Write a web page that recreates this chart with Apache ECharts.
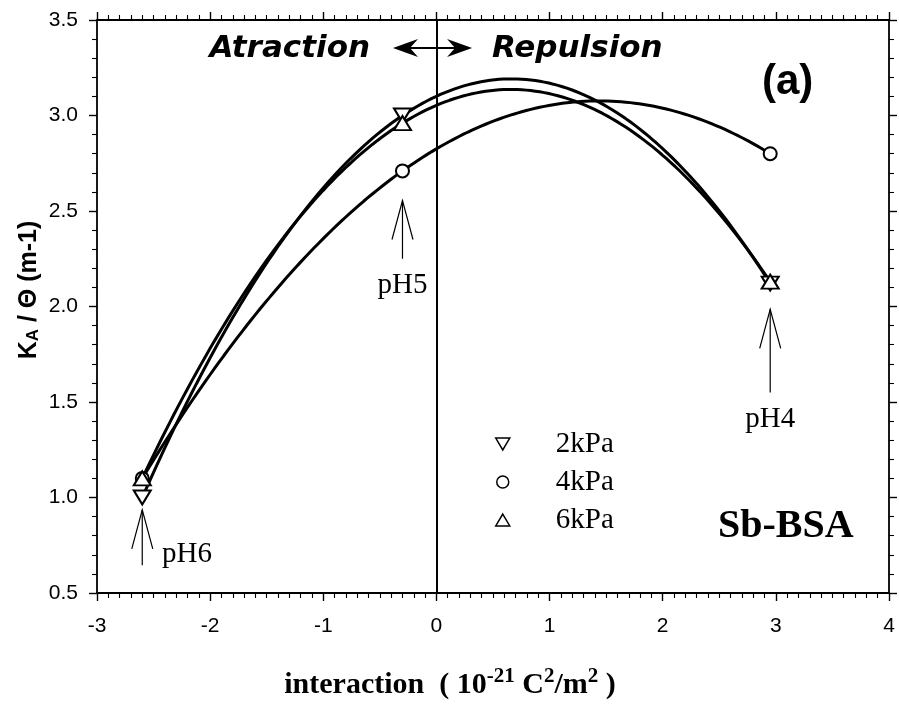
<!DOCTYPE html>
<html>
<head>
<meta charset="utf-8">
<script src="https://cdn.jsdelivr.net/npm/echarts@6/dist/echarts.min.js"></script>
<style>
  html, body { margin: 0; padding: 0; background: #fff; }
  #chart { width: 899px; height: 707px; }
</style>
</head>
<body>
<div id="chart"></div>
<script>
// Surface interaction energy at each pH
const interaction = [-2.6, -0.3, 2.95];
const pHLabels = ['pH6', 'pH5', 'pH4'];

// K_A / Θ at each pressure
const seriesNames = ['2kPa', '4kPa', '6kPa'];
const kPa2 = [1.00, 3.00, 2.12];
const kPa4 = [1.10, 2.71, 2.80];
const kPa6 = [1.10, 2.96, 2.13];

// Axis ranges and tick spacing
const xRange = [-3, 4];
const yRange = [0.5, 3.5];
const xStep = 1;
const yStep = 0.5;

// Least-squares 2nd order polynomial fit
function fitQuadratic(xs, ys) {
  const S = [0, 0, 0, 0, 0];
  const T = [0, 0, 0];
  xs.forEach((x, i) => {
    for (let k = 0; k < 5; k++) S[k] += Math.pow(x, k);
    for (let k = 0; k < 3; k++) T[k] += Math.pow(x, k) * ys[i];
  });
  const A = [
    [S[0], S[1], S[2], T[0]],
    [S[1], S[2], S[3], T[1]],
    [S[2], S[3], S[4], T[2]]
  ];
  for (let c = 0; c < 3; c++) {
    let p = c;
    for (let r = c + 1; r < 3; r++) if (Math.abs(A[r][c]) > Math.abs(A[p][c])) p = r;
    [A[c], A[p]] = [A[p], A[c]];
    for (let r = 0; r < 3; r++) {
      if (r === c) continue;
      const f = A[r][c] / A[c][c];
      for (let k = c; k < 4; k++) A[r][k] -= f * A[c][k];
    }
  }
  return [A[0][3] / A[0][0], A[1][3] / A[1][1], A[2][3] / A[2][2]];
}

function fitCurve(xs, ys) {
  const c = fitQuadratic(xs, ys);
  const x0 = Math.min(...xs), x1 = Math.max(...xs);
  const pts = [];
  const n = 140;
  for (let i = 0; i < n; i++) {
    const x = x0 + (x1 - x0) * i / (n - 1);
    pts.push([x, c[0] + c[1] * x + c[2] * x * x]);
  }
  return pts;
}

const groups = [kPa2, kPa4, kPa6];
const DOWN_TRIANGLE = 'path://M0,0 L20,0 L10,17 Z';
const UP_TRIANGLE = 'path://M10,0 L20,17 L0,17 Z';
const markers = [
  { symbol: DOWN_TRIANGLE, size: [17, 14] },
  { symbol: 'circle', size: 13 },
  { symbol: UP_TRIANGLE, size: [17, 14] }
];

// Pointer arrows under each pH group (axis units)
const pointers = [
  { x: interaction[0], tip: 0.935, tail: 0.645, text: pHLabels[0], at: [-2.425, 0.70], align: 'left' },
  { x: interaction[1], tip: 2.555, tail: 2.25, text: pHLabels[1], at: [interaction[1], 2.11], align: 'center' },
  { x: interaction[2], tip: 1.985, tail: 1.55, text: pHLabels[2], at: [interaction[2], 1.41], align: 'center' }
];
// Double arrow between the two regimes
const regimeArrow = { from: -0.384, to: 0.315, y: 3.353 };

const SERIF = '"Liberation Serif", "Times New Roman", serif';
const SANS = '"Liberation Sans", Arial, sans-serif';

const axisLineStyle = { color: '#000', width: 1.8 };
function xAxisDef(position, showLabel) {
  return {
    type: 'value', position: position, min: xRange[0], max: xRange[1], interval: xStep,
    axisLine: { show: true, onZero: false, lineStyle: axisLineStyle },
    axisTick: { show: true, length: 8, lineStyle: { color: '#000', width: 1.4 } },
    minorTick: { show: true, splitNumber: 10, length: 5, lineStyle: { color: '#000', width: 1.1 } },
    splitLine: { show: false },
    minorSplitLine: { show: false },
    axisLabel: { show: showLabel, margin: 23, fontFamily: SANS, fontSize: 21, color: '#000' }
  };
}
function yAxisDef(position, showLabel) {
  return {
    type: 'value', position: position, min: yRange[0], max: yRange[1], interval: yStep,
    axisLine: { show: true, onZero: false, lineStyle: axisLineStyle },
    axisTick: { show: true, length: 8, lineStyle: { color: '#000', width: 1.4 } },
    minorTick: { show: true, splitNumber: 5, length: 5, lineStyle: { color: '#000', width: 1.1 } },
    splitLine: { show: false },
    minorSplitLine: { show: false },
    axisLabel: {
      show: showLabel, margin: 19, fontFamily: SANS, fontSize: 21, color: '#000',
      formatter: v => v.toFixed(1)
    }
  };
}

const curveSeries = groups.map((ys, i) => ({
  name: seriesNames[i] + ' fit',
  type: 'line',
  data: fitCurve(interaction, ys),
  showSymbol: false,
  symbol: 'none',
  smooth: false,
  lineStyle: { color: '#000', width: 3 },
  z: 3,
  silent: true
}));

// Vertical reference line at zero interaction
curveSeries[0].markLine = {
  silent: true,
  symbol: ['none', 'none'],
  label: { show: false },
  lineStyle: { color: '#000', width: 2, type: 'solid' },
  emphasis: { disabled: true },
  data: [{ xAxis: 0 }]
};

const pointSeries = groups.map((ys, i) => ({
  name: seriesNames[i],
  type: 'scatter',
  data: interaction.map((x, j) => [x, ys[j]]),
  symbol: markers[i].symbol,
  symbolSize: markers[i].size,
  itemStyle: { color: '#fff', borderColor: '#000', borderWidth: 2, opacity: 1 },
  z: 5
}));

const annotationSeries = {
  type: 'custom',
  silent: true,
  z: 6,
  clip: false,
  data: pointers.map(p => [p.x, p.tip]),
  renderItem: function (params, api) {
    const p = pointers[params.dataIndex];
    const tip = api.coord([p.x, p.tip]);
    const tail = api.coord([p.x, p.tail]);
    const headLen = 39, headHalf = 10.5;
    const lab = api.coord(p.at);
    const children = [
      { type: 'line', shape: { x1: tip[0], y1: tip[1], x2: tail[0], y2: tail[1] },
        style: { stroke: '#000', lineWidth: 1.2 } },
      { type: 'polyline', shape: { points: [[tip[0] - headHalf, tip[1] + headLen], tip, [tip[0] + headHalf, tip[1] + headLen]] },
        style: { stroke: '#000', lineWidth: 1.2, fill: null } },
      { type: 'text', x: lab[0], y: lab[1],
        style: { text: p.text, fontFamily: SERIF, fontSize: 29, fill: '#000', align: p.align, verticalAlign: 'middle' } }
    ];
    if (params.dataIndex === 0) {
      const a = api.coord([regimeArrow.from, regimeArrow.y]);
      const b = api.coord([regimeArrow.to, regimeArrow.y]);
      const L = 25, H = 9, N = 17;
      children.push(
        { type: 'line', shape: { x1: a[0] + N, y1: a[1], x2: b[0] - N, y2: b[1] },
          style: { stroke: '#000', lineWidth: 2 } },
        { type: 'polygon', shape: { points: [a, [a[0] + L, a[1] - H], [a[0] + N, a[1]], [a[0] + L, a[1] + H]] },
          style: { fill: '#000' } },
        { type: 'polygon', shape: { points: [b, [b[0] - L, b[1] - H], [b[0] - N, b[1]], [b[0] - L, b[1] + H]] },
          style: { fill: '#000' } }
      );
    }
    return { type: 'group', children: children };
  }
};

const chart = echarts.init(document.getElementById('chart'), null, { renderer: 'canvas' });
chart.setOption({
  animation: false,
  backgroundColor: '#fff',
  grid: { left: 97, top: 20, width: 792, height: 573, containLabel: false },
  xAxis: [xAxisDef('bottom', true), xAxisDef('top', false)],
  yAxis: [yAxisDef('left', true), yAxisDef('right', false)],
  legend: {
    data: seriesNames,
    orient: 'vertical',
    left: 490,
    top: 424,
    itemWidth: 14,
    itemHeight: 12,
    itemGap: 8,
    selectedMode: false,
    itemStyle: { borderWidth: 1.5 },
    textStyle: { fontFamily: SERIF, fontSize: 29, color: '#000', lineHeight: 30, padding: [0, 0, 0, 41] }
  },
  tooltip: { show: false },
  graphic: [
    { type: 'text', x: 370, y: 49,
      style: { text: 'Atraction', font: 'italic bold 31px "DejaVu Sans", sans-serif', fill: '#000', align: 'right', verticalAlign: 'middle' } },
    { type: 'text', x: 492, y: 49,
      style: { text: 'Repulsion', font: 'italic bold 31px "DejaVu Sans", sans-serif', fill: '#000', align: 'left', verticalAlign: 'middle' } },
    { type: 'text', x: 762, y: 82,
      style: { text: '(a)', font: 'bold 42px "Liberation Sans", Arial, sans-serif', fill: '#000', align: 'left', verticalAlign: 'middle' } },
    { type: 'text', x: 718, y: 527,
      style: { text: 'Sb-BSA', font: 'bold 40px "Liberation Serif", "Times New Roman", serif', fill: '#000', align: 'left', verticalAlign: 'middle' } },
    { type: 'text', x: 450, y: 683,
      style: {
        text: '{t|interaction  ( 10}{p|-21}{t| C}{p|2}{t|/m}{p|2}{t| )}',
        align: 'center', verticalAlign: 'middle',
        rich: {
          t: { fontFamily: SERIF, fontWeight: 'bold', fontSize: 30, lineHeight: 34, verticalAlign: 'bottom', fill: '#000' },
          p: { fontFamily: SERIF, fontWeight: 'bold', fontSize: 21, lineHeight: 17, verticalAlign: 'top', fill: '#000' }
        }
      } },
    { type: 'text', x: 27, y: 290, rotation: Math.PI / 2,
      style: {
        text: '{k|K}{s|A}{k| / Θ (m-1)}',
        align: 'center', verticalAlign: 'middle',
        rich: {
          k: { fontFamily: SANS, fontWeight: 'bold', fontSize: 25, lineHeight: 29, verticalAlign: 'bottom', fill: '#000' },
          s: { fontFamily: SANS, fontWeight: 'bold', fontSize: 17, lineHeight: 12, verticalAlign: 'bottom', fill: '#000' }
        }
      } }
  ],
  series: [...curveSeries, ...pointSeries, annotationSeries]
});
</script>
</body>
</html>
